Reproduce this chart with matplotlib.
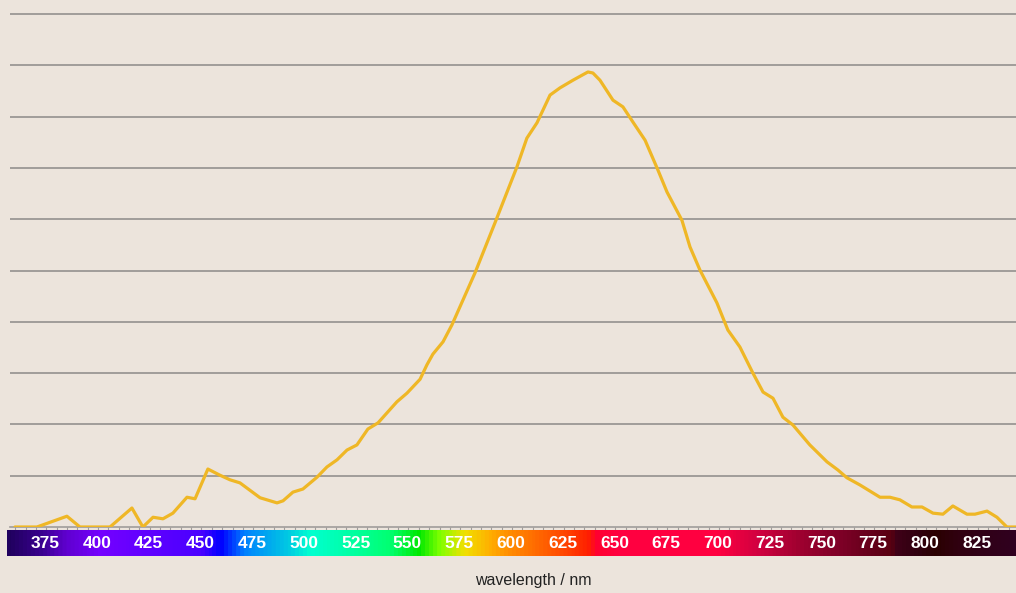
import numpy as np
import matplotlib.pyplot as plt
from matplotlib.colors import LinearSegmentedColormap

# spectrum (wavelength nm, intensity in grid units)
wl = [359.9, 370.5, 385.0, 391.3, 405.8, 416.4, 421.7, 426.6, 431.4, 436.2,
      443.0, 446.9, 453.1, 458.9, 463.8, 468.6, 478.3, 486.5, 489.4, 494.2,
      499.0, 505.8, 510.6, 515.5, 520.3, 525.1, 530.4, 535.3, 544.4, 549.3,
      555.6, 558.9, 561.8, 566.7, 571.0, 582.1, 591.8, 602.4, 607.2, 612.1,
      618.4, 623.2, 629.5, 636.7, 639.1, 642.5, 648.8, 653.6, 658.5, 664.3,
      670.5, 674.9, 682.1, 686.0, 690.8, 699.0, 704.3, 710.1, 716.4, 721.3,
      726.1, 730.9, 735.7, 743.9, 752.2, 757.5, 761.8, 768.1, 777.8, 782.6,
      787.4, 793.2, 798.1, 803.4, 808.2, 813.0, 819.8, 823.7, 829.5, 834.3,
      839.1, 843.5]
intensity = [0.0, 0.0, 0.21, 0.0, 0.0, 0.37, 0.0, 0.19, 0.16, 0.27,
             0.58, 0.55, 1.13, 1.01, 0.92, 0.86, 0.57, 0.47, 0.51, 0.68,
             0.74, 0.97, 1.17, 1.31, 1.50, 1.60, 1.91, 2.03, 2.44, 2.61,
             2.88, 3.16, 3.37, 3.61, 3.94, 4.95, 5.93, 7.02, 7.58, 7.88,
             8.42, 8.56, 8.71, 8.87, 8.85, 8.71, 8.32, 8.19, 7.89, 7.54,
             6.96, 6.53, 5.98, 5.46, 5.01, 4.37, 3.84, 3.51, 3.00, 2.63,
             2.51, 2.14, 1.99, 1.60, 1.27, 1.11, 0.96, 0.82, 0.58, 0.58,
             0.53, 0.39, 0.39, 0.27, 0.25, 0.41, 0.25, 0.25, 0.31, 0.19,
             0.0, 0.0]

tick_labels = list(range(375, 826, 25))

# colour stops of the wavelength bar
stop_nm = [356, 372, 384, 400, 449, 459, 470, 493, 502, 517, 541, 555, 565,
           577, 589, 599, 622, 637, 641, 652, 700, 720, 739, 758, 778, 784,
           786, 797, 806, 816, 844]
stop_col = ['#20005e', '#3a0090', '#6000d0', '#7400ff', '#4a00ff', '#0000ff',
            '#0080ff', '#00d0e0', '#00ffd0', '#00ffb0', '#00ff70', '#00e800',
            '#80ff00', '#f0e000', '#ffb000', '#ff8c00', '#ff5000', '#ff2000',
            '#ff0030', '#ff0040', '#ff0040', '#d00040', '#a00030', '#800028',
            '#600018', '#5a0010', '#400018', '#300010', '#2a0000', '#300010',
            '#300020']

bg = '#ece4dc'
W, H = 1016, 593
x0_nm, x1_nm = 357.5, 843.5

fig = plt.figure(figsize=(W / 100, H / 100), dpi=100)
fig.patch.set_facecolor(bg)

# main plot: 10..1016 px wide, 0..527 px tall
ax = fig.add_axes([10 / W, (H - 527) / H, 1 - 10 / W, 527 / H])
ax.set_facecolor(bg)
ax.set_xlim(x0_nm, x1_nm)
ax.set_ylim(0, 527 / 51.3)
for v in range(1, 11):
    ax.axhline(v, color='#94908e', lw=1.2, zorder=1)
ax.plot(wl, intensity, color='#efb726', lw=2.3, solid_joinstyle='round',
        solid_capstyle='round', zorder=3)
for s in ['top', 'right', 'left']:
    ax.spines[s].set_visible(False)
ax.spines['bottom'].set_color('#a09c9a')
ax.spines['bottom'].set_linewidth(1.2)
ax.set_yticks([])
ax.set_xticks(np.arange(360, 844, 5))
ax.tick_params(axis='x', length=3, width=0.8, color='#a09c9a', labelbottom=False)

# wavelength colour bar
cax = fig.add_axes([7 / W, (H - 556) / H, 1 - 7 / W, 26 / H])
pos = [(n - stop_nm[0]) / (stop_nm[-1] - stop_nm[0]) for n in stop_nm]
cmap = LinearSegmentedColormap.from_list('spec', list(zip(pos, stop_col)))
grad = np.linspace(0, 1, 1000)[None, :]
cx0 = 400 + (7 - 98) / 2.07
cax.imshow(grad, aspect='auto', cmap=cmap, extent=[stop_nm[0], stop_nm[-1], 0, 1])
cax.set_xlim(cx0, x1_nm)
cax.set_ylim(0, 1)
cax.axis('off')
for t in tick_labels:
    cax.text(t - 0.5, 0.48, str(t), color='white', ha='center', va='center',
             fontsize=12.5, fontweight='bold', family='Liberation Sans')

fig.text(533 / W, 1 - 580 / H, 'wavelength / nm', ha='center', va='center',
         fontsize=11.5, color='#222222', family='Liberation Sans')

fig.savefig('out.png', dpi=100, facecolor=bg)
